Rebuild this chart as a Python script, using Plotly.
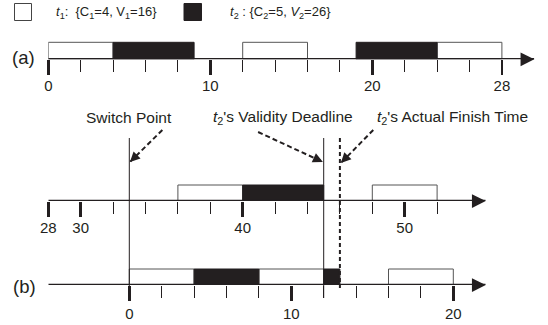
import math
import plotly.graph_objects as go

# ---------------- data ----------------
# (start, end) segments of each task on each timeline
a_t1 = [(0, 4), (12, 16), (24, 28)]
a_t2 = [(4, 9), (19, 24)]
m_t1 = [(36, 40), (48, 52)]
m_t2 = [(40, 45)]
b_t1 = [(0, 4), (8, 12), (16, 20)]
b_t2 = [(4, 8), (12, 13)]

a_major = [0, 10, 20, 28]
a_minor = [2, 4, 6, 8, 12, 14, 16, 18, 22, 24, 26]
m_major = [28, 30, 40, 50]
m_minor = [32, 34, 36, 38, 42, 44, 46, 48, 52]
b_major = [0, 10, 20]
b_minor = [2, 4, 6, 8, 12, 14, 16, 18]

switch_point = 33
deadline = 45
finish = 46

legend_t1 = "<i>t</i><sub>1</sub>:&nbsp;&nbsp;{C<sub>1</sub>=4, V<sub>1</sub>=16}"
legend_t2 = "<i>t</i><sub>2</sub> : {C<sub>2</sub>=5, <i>V</i><sub>2</sub>=26}"

# ---------------- layout helpers ----------------
W, H = 548, 325
INK = "#231f20"
FONT = "Liberation Sans, Arial, sans-serif"
PXU = 16.2  # pixels per time unit
YR = 1.15


def fx(px):
    return px / W


def fy(py):
    return 1 - py / H


rows = [
    dict(x="x", y="y", line=59.3, bar=17, left=48.3, rng=(0, 30), major=a_major, minor=a_minor,
         t1=a_t1, t2=a_t2, stand=-2),
    dict(x="x2", y="y2", line=201.0, bar=16, left=48.3, rng=(28, 55), major=m_major, minor=m_minor,
         t1=m_t1, t2=m_t2, stand=-2),
    dict(x="x3", y="y3", line=285.0, bar=16, left=48.3, rng=(-5, 22), major=b_major, minor=b_minor,
         t1=b_t1, t2=b_t2, stand=0),
]

fig = go.Figure()
shapes = []
annotations = []
layout = {}

for i, r in enumerate(rows):
    sfx = "" if i == 0 else str(i + 1)
    right = r["left"] + (r["rng"][1] - r["rng"][0]) * PXU
    bottom = r["line"]
    top = bottom - r["bar"] * YR
    layout["xaxis" + sfx] = dict(
        domain=[fx(r["left"]), fx(right)], range=list(r["rng"]), anchor=r["y"],
        showline=False, showgrid=False, zeroline=False,
        tickmode="array", tickvals=r["major"], ticktext=[str(v) for v in r["major"]],
        ticks="outside", ticklen=15, tickwidth=2.5, tickcolor=INK,
        ticklabelstandoff=r["stand"],
        tickfont=dict(family=FONT, size=15, color=INK),
        minor=dict(tickmode="array", tickvals=r["minor"], ticks="outside", ticklen=12,
                   tickwidth=1, tickcolor=INK, showgrid=False),
        fixedrange=True, automargin=False,
    )
    layout["yaxis" + sfx] = dict(
        domain=[fy(bottom), fy(top)], range=[0, YR], anchor=r["x"], visible=False,
        fixedrange=True, automargin=False,
    )
    for segs, fill, edge in ((r["t1"], "white", "#555555"), (r["t2"], INK, INK)):
        fig.add_trace(go.Bar(
            orientation="h", base=[s for s, e in segs], x=[e - s for s, e in segs],
            y=[0.5] * len(segs), width=1, xaxis=r["x"], yaxis=r["y"],
            marker=dict(color=fill, line=dict(color=edge, width=1)),
            hoverinfo="skip", showlegend=False,
        ))
    # time axis line
    fig.add_trace(go.Scatter(
        x=list(r["rng"]), y=[0, 0], mode="lines", xaxis=r["x"], yaxis=r["y"],
        line=dict(color=INK, width=2.5), cliponaxis=False, hoverinfo="skip", showlegend=False,
    ))
    # arrow head at its end (paper y so the head is not clipped to the subplot)
    annotations.append(dict(text="", xref=r["x"], yref="paper", x=r["rng"][1], y=fy(r["line"]),
                            ax=-14, ay=0, showarrow=True, arrowhead=2, arrowsize=1.1,
                            arrowwidth=2.5, arrowcolor=INK, standoff=0))

shapes.append(dict(type="line", xref="x2", yref="paper", x0=switch_point, x1=switch_point,
                   y0=fy(138), y1=fy(298), line=dict(color=INK, width=1)))
shapes.append(dict(type="line", xref="x2", yref="paper", x0=deadline, x1=deadline,
                   y0=fy(138), y1=fy(298), line=dict(color=INK, width=1)))
shapes.append(dict(type="line", xref="x2", yref="paper", x0=finish, x1=finish,
                   y0=fy(138), y1=fy(288), line=dict(color=INK, width=2, dash="4px,3px")))

callouts = [
    ("Switch Point", switch_point, switch_point + 0.04, 2.0, 162, 130),
    ("<i>t</i><sub>2</sub>'s Validity Deadline", 42.46, deadline - 0.05, -4.0, 162, 132),
    ("<i>t</i><sub>2</sub>'s Actual Finish Time", 52.98, finish + 0.06, 2.0, 163, 130),
]
for text, lx, tipx, dtail, tipy, taily in callouts:
    annotations.append(dict(text=text, xref="x2", yref="paper", x=lx, y=fy(117),
                            showarrow=False, xanchor="center", yanchor="middle",
                            font=dict(family=FONT, size=15.5, color=INK)))
    shapes.append(dict(type="line", xref="x2", yref="paper", x0=tipx + dtail, x1=tipx,
                       y0=fy(taily), y1=fy(tipy), line=dict(color=INK, width=2, dash="5px,3px")))
    dxp = dtail * PXU
    dyp = taily - tipy
    n = math.hypot(dxp, dyp)
    annotations.append(dict(text="", xref="x2", yref="paper", x=tipx, y=fy(tipy),
                            ax=dxp / n * 6, ay=dyp / n * 6, showarrow=True, arrowhead=2,
                            arrowsize=1, arrowwidth=2, arrowcolor=INK, standoff=0))

shapes.append(dict(type="rect", xref="paper", yref="paper", x0=fx(14.5), x1=fx(31.5),
                   y0=fy(20.5), y1=fy(3.5), fillcolor="white", line=dict(color="#444444", width=1)))
shapes.append(dict(type="rect", xref="paper", yref="paper", x0=fx(184), x1=fx(201.5),
                   y0=fy(20.5), y1=fy(3.5), fillcolor=INK, line=dict(color=INK, width=1)))
annotations.append(dict(text=legend_t1, xref="paper", yref="paper", x=fx(54), y=fy(12),
                        xanchor="left", yanchor="middle", showarrow=False,
                        font=dict(family=FONT, size=13, color=INK)))
annotations.append(dict(text=legend_t2, xref="paper", yref="paper", x=fx(228), y=fy(12),
                        xanchor="left", yanchor="middle", showarrow=False,
                        font=dict(family=FONT, size=13, color=INK)))

annotations.append(dict(text="(a)", xref="paper", yref="paper", x=fx(23.5), y=fy(58),
                        showarrow=False, xanchor="center", yanchor="middle",
                        font=dict(family=FONT, size=18.5, color=INK)))
annotations.append(dict(text="(b)", xref="paper", yref="paper", x=fx(24), y=fy(286),
                        showarrow=False, xanchor="center", yanchor="middle",
                        font=dict(family=FONT, size=18.5, color=INK)))

fig.update_layout(
    width=W, height=H, margin=dict(l=0, r=0, t=0, b=0, pad=0, autoexpand=False),
    paper_bgcolor="white", plot_bgcolor="rgba(0,0,0,0)",
    barmode="overlay", showlegend=False,
    shapes=shapes, annotations=annotations, **layout,
)

# page without the browser's default 8px body margin
post = "document.body.style.margin='0';document.documentElement.style.overflow='hidden';"
fig.write_html("out.html", post_script=post, config={"displayModeBar": False, "staticPlot": True})
